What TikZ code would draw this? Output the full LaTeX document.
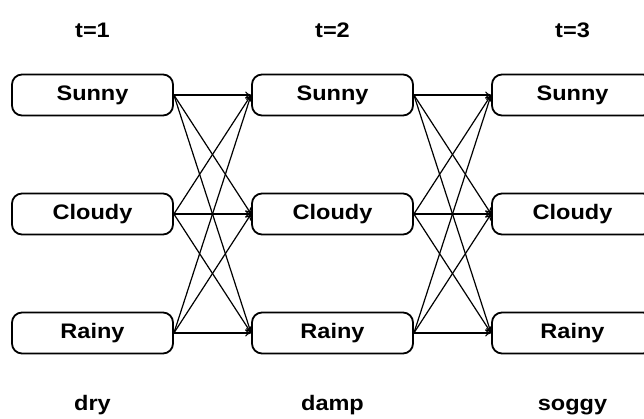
\documentclass[tikz,border=0pt]{standalone}
\usepackage{fontspec}
\setmainfont[FakeStretch=1.12]{Liberation Sans}
\usetikzlibrary{positioning, arrows.meta}

\begin{document}
\begin{tikzpicture}[x=1pt,y=-1pt,node distance=119pt and 240pt,on grid,>={To[length=6pt,width=7pt]},
  state/.style={draw, line width=1.8pt, rounded corners=10pt, minimum width=161pt, minimum height=41pt, font=\fontsize{21}{24}\selectfont\bfseries},
  lbl/.style={text height=15pt, text depth=4pt, font=\fontsize{21}{24}\selectfont\bfseries}]

  \useasboundingbox (0,0) rectangle (644,419);

  \node[state] (Sun1) at (92.5,95) {Sunny};
  \node[state] (Cld1) [below=of Sun1] {Cloudy};
  \node[state] (Rain1) [below=of Cld1] {Rainy};

  \node[state] (Sun2) [right=of Sun1] {Sunny};
  \node[state] (Cld2) [below=of Sun2] {Cloudy};
  \node[state] (Rain2) [below=of Cld2] {Rainy};

  \node[state] (Sun3) [right=of Sun2] {Sunny};
  \node[state] (Cld3) [below=of Sun3] {Cloudy};
  \node[state] (Rain3) [below=of Cld3] {Rainy};

  \node[lbl] (T1) [above=62.5pt of Sun1] {t=1};
  \node[lbl] (T2) [above=62.5pt of Sun2] {t=2};
  \node[lbl] (T3) [above=62.5pt of Sun3] {t=3};

  \node[lbl] (Dry) [below=71.5pt of Rain1] {dry};
  \node[lbl] (Damp) [below=71.5pt of Rain2] {damp};
  \node[lbl] (Soggy) [below=71.5pt of Rain3] {soggy};

  \path[->, line width=1.2pt]
    (Sun1.east) edge (Sun2.west) edge (Cld2.west) edge (Rain2.west)
    (Cld1.east) edge (Sun2.west) edge (Cld2.west) edge (Rain2.west)
    (Rain1.east) edge (Sun2.west) edge (Cld2.west) edge (Rain2.west)
    (Sun2.east) edge (Sun3.west) edge (Cld3.west) edge (Rain3.west)
    (Cld2.east) edge (Sun3.west) edge (Cld3.west) edge (Rain3.west)
    (Rain2.east) edge (Sun3.west) edge (Cld3.west) edge (Rain3.west);

\end{tikzpicture}
\end{document}
